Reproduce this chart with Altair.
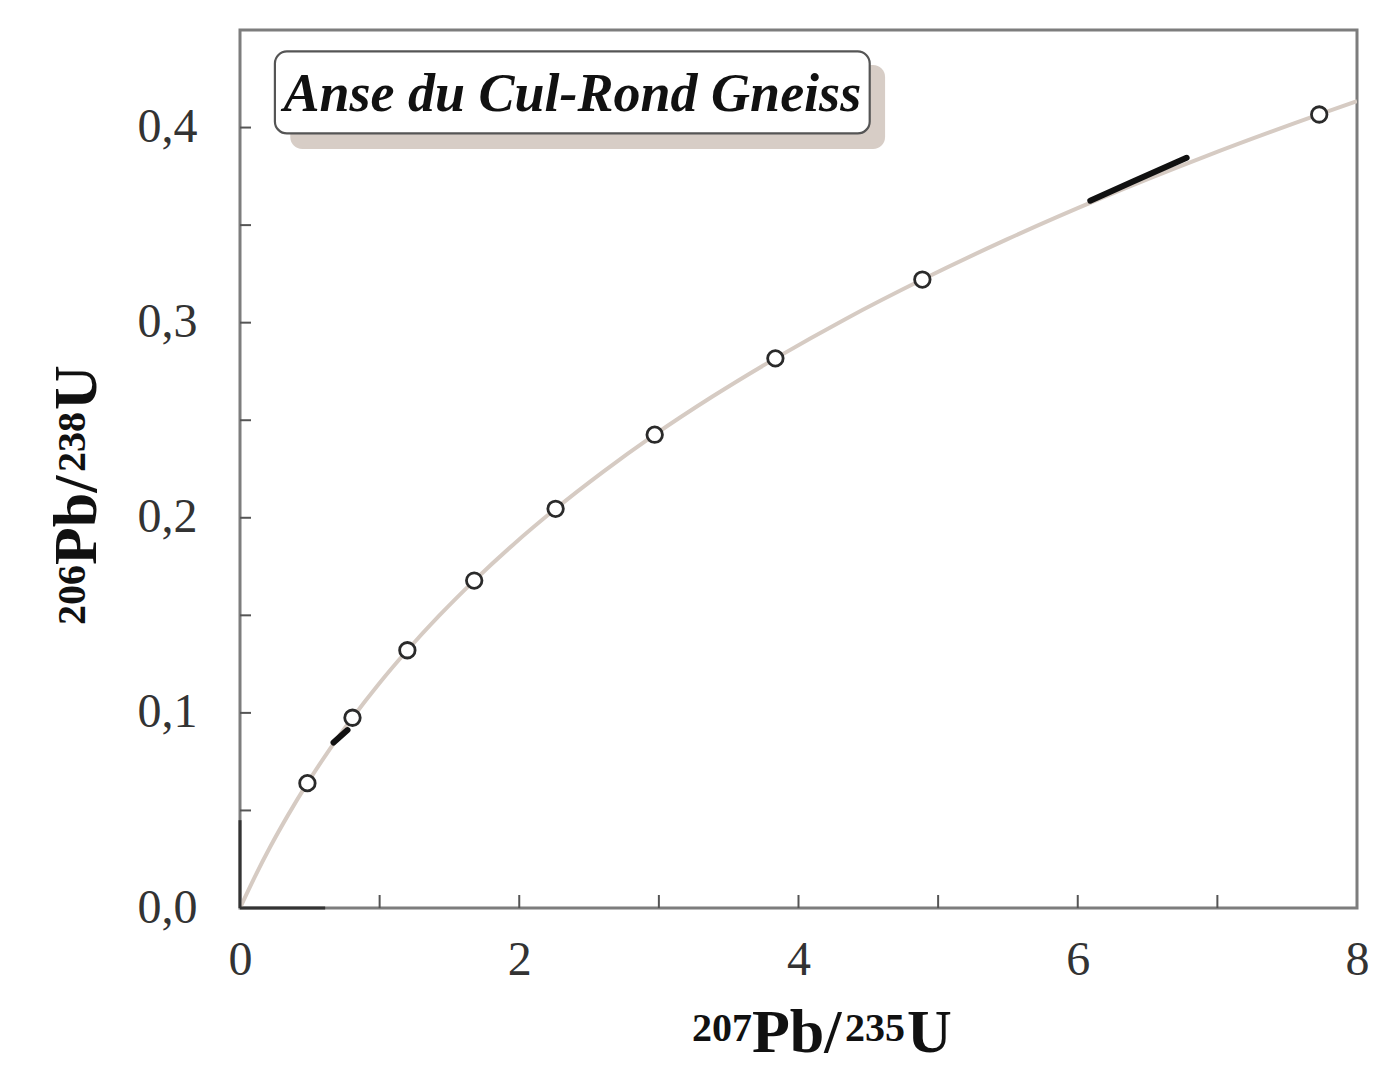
import altair as alt
import pandas as pd

# Concordia curve (207Pb/235U, 206Pb/238U)
curve_x = [0.0, 0.1035, 0.2177, 0.3438, 0.4828, 0.6362, 0.8056, 0.9925, 1.1987, 1.4263,
           1.6774, 1.9545, 2.2603, 2.5977, 2.9701, 3.3810, 3.8345, 4.3348, 4.8870, 5.4963,
           6.1687, 6.9106, 7.7294, 8.0]
curve_y = [0.0, 0.0156, 0.0315, 0.0476, 0.0640, 0.0807, 0.0975, 0.1147, 0.1321, 0.1498,
           0.1678, 0.1861, 0.2046, 0.2234, 0.2426, 0.2620, 0.2817, 0.3018, 0.3221, 0.3428,
           0.3638, 0.3851, 0.4067, 0.4135]

# Open circle markers on the curve
pt_x = [0.4828, 0.8056, 1.1987, 1.6774, 2.2603, 2.9701, 3.8345, 4.8870, 7.7294]
pt_y = [0.0640, 0.0975, 0.1321, 0.1678, 0.2046, 0.2426, 0.2817, 0.3221, 0.4067]

# Black data segments (error ellipses) lying on the curve
seg_id = ["a", "a", "a", "b", "b"]
seg_x = [6.09, 6.40, 6.78, 0.67, 0.77]
seg_y = [0.3625, 0.3725, 0.3845, 0.0848, 0.0912]

# Dark axis stubs near origin
stub_x = [0.0, 0.0]
stub_x2 = [0.0, 0.61]
stub_y = [0.0, 0.0]
stub_y2 = [0.045, 0.0]

# Inner ticks and tick labels
x_ticks = [1, 2, 3, 4, 5, 6, 7]
y_ticks = [0.05, 0.10, 0.15, 0.20, 0.25, 0.30, 0.35, 0.40]
x_labels = [0, 2, 4, 6, 8]
y_labels = [0.0, 0.1, 0.2, 0.3, 0.4]

# Axis titles as pieces (superscript mass numbers + element symbols)
title_parts = ["207", "Pb/", "235", "U"]
y_title_parts = ["206", "Pb/", "238", "U"]
part_sup = [True, False, True, False]
part_offset = [0, 60, 153, 215]

title_text = "Anse du Cul-Rond Gneiss"
box = {"x": [0.25], "x2": [4.51], "y": [0.397], "y2": [0.439]}
shadow = {"x": [0.36], "x2": [4.62], "y": [0.389], "y2": [0.432]}

FONT = "Liberation Serif"
xs = alt.Scale(domain=[0, 8], nice=False, zero=False)
ys = alt.Scale(domain=[0, 0.45], nice=False, zero=False)

curve_df = pd.DataFrame({"x": curve_x, "y": curve_y})
pt_df = pd.DataFrame({"x": pt_x, "y": pt_y})
seg_df = pd.DataFrame({"id": seg_id, "x": seg_x, "y": seg_y})
stub_df = pd.DataFrame({"x": stub_x, "x2": stub_x2, "y": stub_y, "y2": stub_y2})

base_x = alt.X("x:Q", scale=xs, title="", axis=alt.Axis(
    values=x_labels, ticks=False, domain=False, grid=False, format="d",
    labelFont=FONT, labelFontSize=48, labelColor="#333333", labelPadding=28,
    labelFlush=False, labelOverlap=False))
base_y = alt.Y("y:Q", scale=ys, title="", axis=alt.Axis(
    values=y_labels, ticks=False, domain=False, grid=False,
    labelFont=FONT, labelFontSize=48, labelColor="#333333", labelPadding=43,
    labelFlush=False, labelOverlap=False,
    labelExpr="replace(format(datum.value, '.1f'), '.', ',')"))

curve = alt.Chart(curve_df).mark_line(
    color="#d6cbc3", strokeWidth=4, interpolate="monotone", clip=True
).encode(x=base_x, y=base_y)

segs = alt.Chart(seg_df).mark_line(
    color="#111111", strokeWidth=6, interpolate="monotone", strokeCap="round"
).encode(x=alt.X("x:Q", scale=xs), y=alt.Y("y:Q", scale=ys), detail="id:N")

pts = alt.Chart(pt_df).mark_point(
    shape="circle", size=240, filled=True, fill="white", stroke="#2a2a2a",
    strokeWidth=2.8, opacity=1
).encode(x=alt.X("x:Q", scale=xs), y=alt.Y("y:Q", scale=ys))

stubs = alt.Chart(stub_df).mark_rule(color="#333333", strokeWidth=3).encode(
    x=alt.X("x:Q", scale=xs), x2="x2:Q", y=alt.Y("y:Q", scale=ys), y2="y2:Q")

xt = alt.Chart(pd.DataFrame({"t": x_ticks})).mark_rule(color="#555555", strokeWidth=2).encode(
    x=alt.X("t:Q", scale=xs), y=alt.value(878), y2=alt.value(865))
yt = alt.Chart(pd.DataFrame({"t": y_ticks})).mark_rule(color="#555555", strokeWidth=2).encode(
    y=alt.Y("t:Q", scale=ys), x=alt.value(0), x2=alt.value(11))

shadow_l = alt.Chart(pd.DataFrame(shadow)).mark_rect(
    color="#d3c8c0", cornerRadius=12, opacity=0.9
).encode(x=alt.X("x:Q", scale=xs), x2="x2:Q", y=alt.Y("y:Q", scale=ys), y2="y2:Q")
box_l = alt.Chart(pd.DataFrame(box)).mark_rect(
    fill="white", stroke="#555555", strokeWidth=2.2, cornerRadius=12
).encode(x=alt.X("x:Q", scale=xs), x2="x2:Q", y=alt.Y("y:Q", scale=ys), y2="y2:Q")
txt = alt.Chart(pd.DataFrame({"x": [2.38], "y": [0.4165], "t": [title_text]})).mark_text(
    font=FONT, fontSize=54, fontWeight="bold", fontStyle="italic", color="#111111",
    align="center", baseline="middle"
).encode(x=alt.X("x:Q", scale=xs), y=alt.Y("y:Q", scale=ys), text="t:N")

# axis title pieces
layers_titles = []
X_LEFT, X_BASE, X_SUP_BASE = 452, 1022, 1011  # relative to plot origin
Y_BOTTOM, Y_BASE, Y_SUP_BASE = 595, -144, -155
for tx, ty, sup, off in zip(title_parts, y_title_parts, part_sup, part_offset):
    size = 40 if sup else 62
    d = pd.DataFrame({"t": [tx]})
    layers_titles.append(alt.Chart(d).mark_text(
        font=FONT, fontSize=size, fontWeight="bold", color="#111111",
        align="left", baseline="alphabetic"
    ).encode(text="t:N", x=alt.value(X_LEFT + off),
             y=alt.value(X_SUP_BASE if sup else X_BASE)))
    d2 = pd.DataFrame({"t": [ty]})
    layers_titles.append(alt.Chart(d2).mark_text(
        font=FONT, fontSize=size, fontWeight="bold", color="#111111",
        align="left", baseline="alphabetic", angle=270
    ).encode(text="t:N", x=alt.value(Y_SUP_BASE if sup else Y_BASE),
             y=alt.value(Y_BOTTOM - off)))

chart = alt.layer(curve, segs, pts, stubs, xt, yt, shadow_l, box_l, txt, *layers_titles).properties(
    width=1117, height=878,
    autosize=alt.AutoSizeParams(type="none"),
    padding={"left": 232, "top": 22, "right": 25, "bottom": 160},
    background="white",
).configure_view(stroke="#7d7d7d", strokeWidth=3)

chart.save("out.html", embed_options={"renderer": "svg", "actions": False})
